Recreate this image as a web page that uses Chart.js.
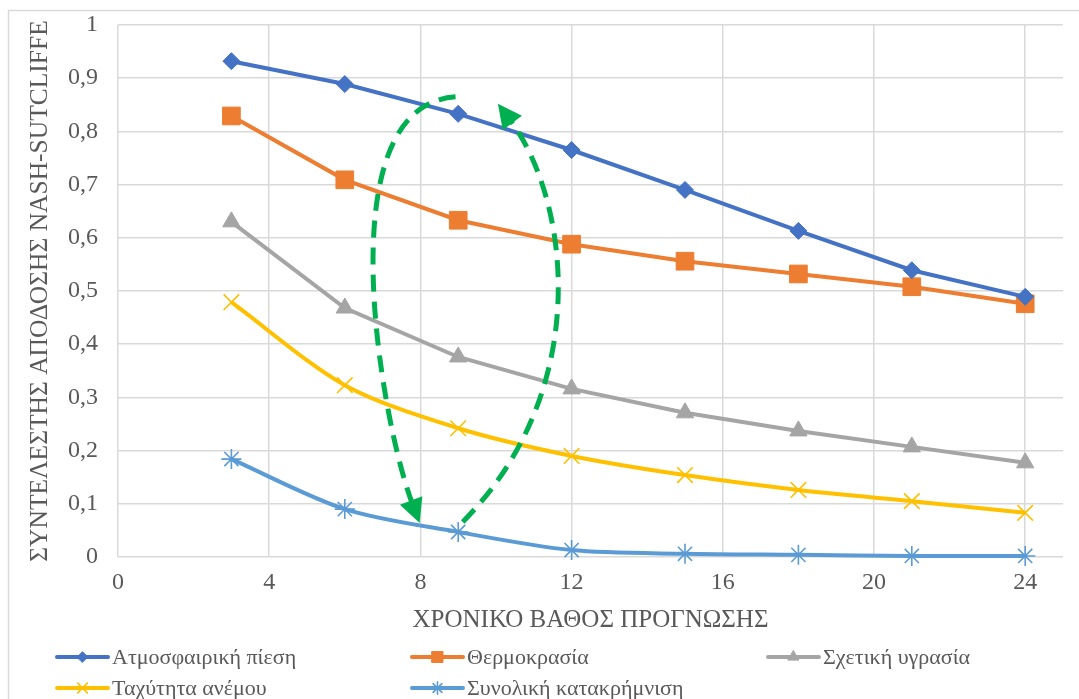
<!DOCTYPE html>
<html>
<head>
<meta charset="utf-8">
<script src="https://cdn.jsdelivr.net/npm/chart.js@4.4.1/dist/chart.umd.min.js"></script>
<style>
  html, body { margin: 0; padding: 0; background: #fff; }
  #wrap { position: relative; width: 1079px; height: 699px; }
  canvas { display: block; }
</style>
</head>
<body>
<div id="wrap"><canvas id="c" width="1079" height="699"></canvas></div>
<script>
// ---- Data ----
const forecastHours = [3, 6, 9, 12, 15, 18, 21, 24];
const seriesNames = ['Ατμοσφαιρική πίεση', 'Θερμοκρασία', 'Σχετική υγρασία', 'Ταχύτητα ανέμου', 'Συνολική κατακρήμνιση'];
const pressure      = [0.932, 0.889, 0.833, 0.765, 0.690, 0.613, 0.539, 0.489];
const temperature   = [0.829, 0.709, 0.633, 0.588, 0.556, 0.532, 0.508, 0.476];
const humidity      = [0.630, 0.468, 0.376, 0.316, 0.271, 0.237, 0.207, 0.177];
const windSpeed     = [0.479, 0.323, 0.242, 0.190, 0.154, 0.126, 0.105, 0.083];
const precipitation = [0.184, 0.090, 0.047, 0.013, 0.006, 0.004, 0.002, 0.002];
const xTickValues = [0, 4, 8, 12, 16, 20, 24];
const yTickValues = [0, 0.1, 0.2, 0.3, 0.4, 0.5, 0.6, 0.7, 0.8, 0.9, 1];
const xAxisTitle = 'ΧΡΟΝΙΚΟ ΒΑΘΟΣ ΠΡΟΓΝΩΣΗΣ';
const yAxisTitle = 'ΣΥΝΤΕΛΕΣΤΗΣ ΑΠΟΔΟΣΗΣ NASH-SUTCLIFFE';
// Green dashed loop (annotation), in data coordinates: [start, ctrl1, ctrl2, end]
const loopDown = [[8.93, 0.865], [5.48, 0.850], [6.94, 0.258], [7.98, 0.064]];
const loopUp   = [[9.12, 0.066], [12.58, 0.314], [11.97, 0.671], [10.05, 0.852]];

const FONT = "'Liberation Serif', 'Times New Roman', serif";
const TXT = '#595959';
const GRID = '#d9d9d9';

const styles = [
  { color: '#4472C4', point: 'rectRot', r: 8.5, tension: 0 },
  { color: '#ED7D31', point: 'rect', r: 12.5, tension: 0 },
  { color: '#A5A5A5', point: 'triangle', r: 10, tension: 0 },
  { color: '#FFC000', point: 'crossRot', r: 11, tension: 0.3 },
  { color: '#5B9BD5', point: 'star', r: 10, tension: 0.3 }
];
const allSeries = [pressure, temperature, humidity, windSpeed, precipitation];

const datasets = allSeries.map((vals, i) => ({
  label: seriesNames[i],
  data: forecastHours.map((x, j) => ({ x: x, y: vals[j] })),
  borderColor: styles[i].color,
  backgroundColor: styles[i].color,
  pointBackgroundColor: styles[i].color,
  pointBorderColor: styles[i].color,
  borderWidth: 4,
  pointStyle: styles[i].point,
  pointRadius: styles[i].r,
  pointBorderWidth: (styles[i].point === 'crossRot' || styles[i].point === 'star') ? 1.6 : 1,
  tension: styles[i].tension,
  cubicInterpolationMode: 'default',
  clip: false
}));

function fmt(v) {
  const r = Math.round(v * 10) / 10;
  return String(r).replace('.', ',');
}

function toPx(chart, p) {
  return [chart.scales.x.getPixelForValue(p[0]), chart.scales.y.getPixelForValue(p[1])];
}

function drawArrowCurve(ctx, chart, pts) {
  const P = pts.map(p => toPx(chart, p));
  const end = P[3];
  const dx = end[0] - P[2][0], dy = end[1] - P[2][1];
  const ang = Math.atan2(dy, dx);
  const headLen = 24, headW = 12;
  ctx.save();
  ctx.strokeStyle = '#00B050';
  ctx.lineWidth = 5;
  ctx.setLineDash([17, 10]);
  ctx.lineCap = 'butt';
  ctx.beginPath();
  ctx.moveTo(P[0][0], P[0][1]);
  const sx = end[0] - Math.cos(ang) * headLen * 0.8;
  const sy = end[1] - Math.sin(ang) * headLen * 0.8;
  ctx.bezierCurveTo(P[1][0], P[1][1], P[2][0], P[2][1], sx, sy);
  ctx.stroke();
  ctx.setLineDash([]);
  ctx.fillStyle = '#00B050';
  ctx.beginPath();
  ctx.moveTo(end[0], end[1]);
  const bx = end[0] - Math.cos(ang) * headLen, by = end[1] - Math.sin(ang) * headLen;
  ctx.lineTo(bx + Math.cos(ang + Math.PI / 2) * headW, by + Math.sin(ang + Math.PI / 2) * headW);
  ctx.lineTo(bx - Math.cos(ang + Math.PI / 2) * headW, by - Math.sin(ang + Math.PI / 2) * headW);
  ctx.closePath();
  ctx.fill();
  ctx.restore();
}

const decorPlugin = {
  id: 'decor',
  beforeDraw(chart) {
    const ctx = chart.ctx;
    ctx.save();
    ctx.fillStyle = '#ffffff';
    ctx.fillRect(0, 0, chart.width, chart.height);
    ctx.strokeStyle = GRID;
    ctx.lineWidth = 1.5;
    ctx.beginPath();
    ctx.moveTo(8.5, chart.height);
    ctx.lineTo(8.5, 10.5);
    ctx.lineTo(chart.width, 10.5);
    ctx.stroke();
    ctx.restore();
  },
  afterDatasetsDraw(chart) {
    const ctx = chart.ctx;
    drawArrowCurve(ctx, chart, loopDown);
    drawArrowCurve(ctx, chart, loopUp);
  },
  afterDraw(chart) {
    const ctx = chart.ctx;
    const colX = [57, 412, 768];
    const rowY = [657, 688];
    ctx.save();
    ctx.font = '22px ' + FONT;
    ctx.textBaseline = 'middle';
    ctx.textAlign = 'left';
    chart.data.datasets.forEach((ds, i) => {
      const x = colX[i % 3], y = rowY[Math.floor(i / 3)];
      ctx.strokeStyle = ds.borderColor;
      ctx.lineWidth = 4;
      ctx.lineCap = 'round';
      ctx.beginPath();
      ctx.moveTo(x, y);
      ctx.lineTo(x + 51, y);
      ctx.stroke();
      ctx.fillStyle = ds.borderColor;
      ctx.strokeStyle = ds.borderColor;
      ctx.lineWidth = ds.pointBorderWidth;
      Chart.helpers.drawPoint(ctx, { pointStyle: ds.pointStyle, radius: ds.pointRadius * 0.62, rotation: 0, borderWidth: ds.pointBorderWidth }, x + 25.5, y);
      ctx.fillStyle = TXT;
      ctx.fillText(ds.label, x + 55, y + 1);
    });
    ctx.restore();
  }
};

new Chart(document.getElementById('c'), {
  type: 'line',
  data: { datasets: datasets },
  plugins: [decorPlugin],
  options: {
    responsive: false,
    animation: false,
    devicePixelRatio: 1,
    layout: { padding: { left: 0, top: 25, right: 16, bottom: 62 } },
    plugins: { legend: { display: false }, tooltip: { enabled: false } },
    scales: {
      x: {
        type: 'linear',
        min: 0,
        max: 25,
        afterBuildTicks(scale) { scale.ticks = xTickValues.map(v => ({ value: v })); },
        afterFit(scale) { scale.height = 80; scale.paddingLeft = 0; scale.paddingRight = 0; },
        ticks: {
          includeBounds: false,
          autoSkip: false,
          maxRotation: 0,
          padding: 11,
          color: TXT,
          font: { family: FONT, size: 24 },
          callback: v => String(v)
        },
        grid: { color: GRID, lineWidth: 1.5, drawTicks: false },
        border: { display: false },
        title: {
          display: true,
          text: xAxisTitle,
          color: TXT,
          font: { family: FONT, size: 25 },
          padding: { top: 0, bottom: 2 }
        }
      },
      y: {
        min: 0,
        max: 1,
        afterBuildTicks(scale) { scale.ticks = yTickValues.map(v => ({ value: v })); },
        afterFit(scale) { scale.width = 118; scale.paddingTop = 0; scale.paddingBottom = 0; },
        ticks: {
          padding: 20,
          color: TXT,
          font: { family: FONT, size: 24 },
          callback: v => fmt(v)
        },
        grid: { color: GRID, lineWidth: 1.5, drawTicks: false },
        border: { display: false },
        title: {
          display: true,
          text: yAxisTitle,
          color: TXT,
          font: { family: FONT, size: 25.5 },
          padding: { top: 25, bottom: 0 }
        }
      }
    }
  }
});
</script>
</body>
</html>
